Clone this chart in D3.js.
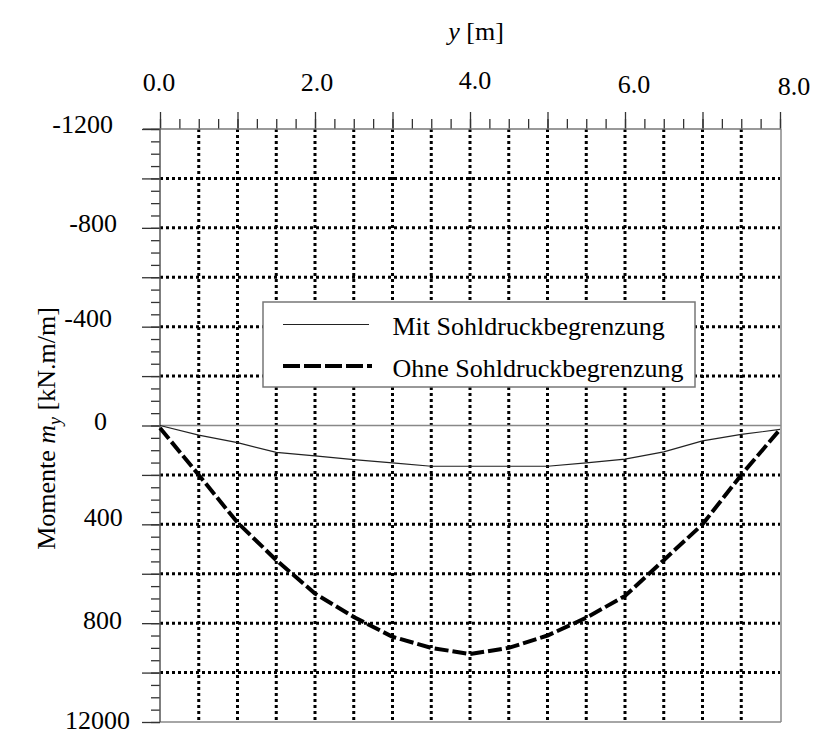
<!DOCTYPE html>
<html>
<head>
<meta charset="utf-8">
<script src="https://cdn.jsdelivr.net/npm/d3@7"></script>
<style>
  body { margin: 0; background: #fff; }
  svg { display: block; font-family: "Liberation Serif", "Times New Roman", serif; }
</style>
</head>
<body>
<svg width="816" height="733"></svg>
<script>
// positions along the slab [m]
const posY = [0, 0.5, 1.0, 1.5, 2.0, 2.5, 3.0, 3.5, 4.0, 4.5, 5.0, 5.5, 6.0, 6.5, 7.0, 7.5, 8.0]
// moments m_y [kN.m/m]
const mitBegrenzung  = [0, 39, 69, 109, 123, 138, 151, 165, 165, 165, 165, 151, 136, 107, 62, 36, 16]
const ohneBegrenzung = [10, 200, 393, 545, 680, 775, 855, 900, 925, 900, 850, 778, 690, 545, 400, 200, 16]

const xTickValues = [0, 2, 4, 6, 8]
const xTickLabels = ["0.0", "2.0", "4.0", "6.0", "8.0"]
const yTickValues = [-1200, -800, -400, 0, 400, 800, 1200]
const yTickLabels = ["-1200", "-800", "-400", "0", "400", "800", "12000"]
const seriesNames = ["Mit Sohldruckbegrenzung", "Ohne Sohldruckbegrenzung"]

// label nudges (the original software places them a bit unevenly)
const xLabelDx = [-1, 2, 5, 9, 14]
const xLabelBase = [90.7, 90.7, 89, 92.7, 95]
const yLabelEnd = [113, 117, 112, 107, 122.7, 122, 130]
const yLabelDy = [4.3, 4, 0, 4.5, 1.7, 5.8, 7]

const svg = d3.select("svg")
const pL = 160, pR = 780, pT = 129, pB = 722

const x = d3.scaleLinear().domain([0, 8]).range([pL, pR])
const y = d3.scaleLinear().domain([-1200, 1200]).range([pT, pB])

// dotted grid
const grid = svg.append("g")
grid.selectAll(".vg")
  .data(d3.range(0.5, 8, 0.5))
  .join("line")
    .attr("class", "vg")
    .attr("x1", d => x(d)).attr("x2", d => x(d))
    .attr("y1", pT).attr("y2", pB)
grid.selectAll(".hg")
  .data(d3.range(-1000, 1001, 200).filter(d => d !== 0))
  .join("line")
    .attr("class", "hg")
    .attr("x1", pL).attr("x2", pR)
    .attr("y1", d => y(d)).attr("y2", d => y(d))
grid.selectAll("line")
  .attr("stroke", "#000")
  .attr("stroke-width", 3)
  .attr("stroke-dasharray", "3,3")

// zero line and frame
svg.append("line")
  .attr("x1", pL).attr("x2", pR + 1)
  .attr("y1", y(0)).attr("y2", y(0))
  .attr("stroke", "#888").attr("stroke-width", 1.5)
svg.append("line")
  .attr("x1", pR + 1).attr("x2", pR + 1)
  .attr("y1", pT).attr("y2", pB)
  .attr("stroke", "#888").attr("stroke-width", 1.5)
svg.append("line")
  .attr("x1", pL).attr("x2", pR + 1)
  .attr("y1", pB).attr("y2", pB)
  .attr("stroke", "#888").attr("stroke-width", 1.5)

// top axis
const xMinor = d3.axisTop(x).tickValues(d3.range(0, 8.01, 0.25)).tickSize(10).tickFormat("")
const xMajor = d3.axisTop(x).tickValues(d3.range(0, 9, 1)).tickSize(17).tickFormat("")
svg.append("g").attr("transform", `translate(0,${pT})`).call(xMinor).call(g => g.select(".domain").remove())
svg.append("g").attr("transform", `translate(0,${pT})`).call(xMajor).call(g => g.select(".domain").remove())
svg.append("line")
  .attr("x1", pL - 17).attr("x2", pR + 1)
  .attr("y1", pT).attr("y2", pT)
  .attr("stroke", "#777").attr("stroke-width", 1.5)

// left axis
const yMinor = d3.axisLeft(y).tickValues(d3.range(-1200, 1201, 50)).tickSize(9).tickFormat("")
const yMajor = d3.axisLeft(y).tickValues(d3.range(-1200, 1201, 200)).tickSize(18).tickFormat("")
svg.append("g").attr("transform", `translate(${pL},0)`).call(yMinor).call(g => g.select(".domain").remove())
svg.append("g").attr("transform", `translate(${pL},0)`).call(yMajor).call(g => g.select(".domain").remove())
svg.append("line")
  .attr("x1", pL).attr("x2", pL)
  .attr("y1", pT).attr("y2", pB)
  .attr("stroke", "#555").attr("stroke-width", 1.5)

svg.selectAll(".tick line").attr("stroke", "#333").attr("stroke-width", 1.3)

// tick labels
svg.append("g").selectAll("text")
  .data(xTickValues)
  .join("text")
    .attr("x", (d, i) => x(d) + xLabelDx[i])
    .attr("y", (d, i) => xLabelBase[i])
    .attr("text-anchor", "middle")
    .style("font-size", "26px")
    .text((d, i) => xTickLabels[i])

svg.append("g").selectAll("text")
  .data(yTickValues)
  .join("text")
    .attr("x", (d, i) => yLabelEnd[i])
    .attr("y", (d, i) => y(d) + yLabelDy[i])
    .attr("text-anchor", "end")
    .style("font-size", "26px")
    .text((d, i) => yTickLabels[i])

// axis titles
const xt = svg.append("text")
  .attr("x", 476).attr("y", 40)
  .attr("text-anchor", "middle")
  .style("font-size", "26px")
xt.append("tspan").style("font-style", "italic").text("y")
xt.append("tspan").text(" [m]")

const yt = svg.append("text")
  .attr("transform", `translate(55,${(pT + pB) / 2 + 3}) rotate(-90)`)
  .attr("text-anchor", "middle")
  .style("font-size", "26px")
yt.append("tspan").text("Momente ")
yt.append("tspan").style("font-style", "italic").text("m")
yt.append("tspan").style("font-style", "italic").style("font-size", "18px").attr("dy", 6).text("y")
yt.append("tspan").attr("dy", -6).text(" [kN.m/m]")

// curves
const line = d3.line().x((d, i) => x(posY[i])).y(d => y(d))

svg.append("path")
  .datum(mitBegrenzung)
  .attr("d", line)
  .attr("fill", "none")
  .attr("stroke", "#222")
  .attr("stroke-width", 1.2)

svg.append("path")
  .datum(ohneBegrenzung)
  .attr("d", line)
  .attr("fill", "none")
  .attr("stroke", "#000")
  .attr("stroke-width", 4)
  .attr("stroke-dasharray", "14,4")

// legend
const legend = svg.append("g")
legend.append("rect")
  .attr("x", 263).attr("y", 302)
  .attr("width", 432).attr("height", 85)
  .attr("fill", "#fff")
  .attr("stroke", "#777").attr("stroke-width", 1.5)

legend.append("line")
  .attr("x1", 283).attr("x2", 369)
  .attr("y1", 324.5).attr("y2", 324.5)
  .attr("stroke", "#222").attr("stroke-width", 1.2)
legend.append("line")
  .attr("x1", 283).attr("x2", 372)
  .attr("y1", 366).attr("y2", 366)
  .attr("stroke", "#000").attr("stroke-width", 4)
  .attr("stroke-dasharray", "17,4")

legend.selectAll(".lt")
  .data(seriesNames)
  .join("text")
    .attr("x", 392.5)
    .attr("y", (d, i) => i === 0 ? 335 : 377.3)
    .style("font-size", "26px")
    .text(d => d)
</script>
</body>
</html>
